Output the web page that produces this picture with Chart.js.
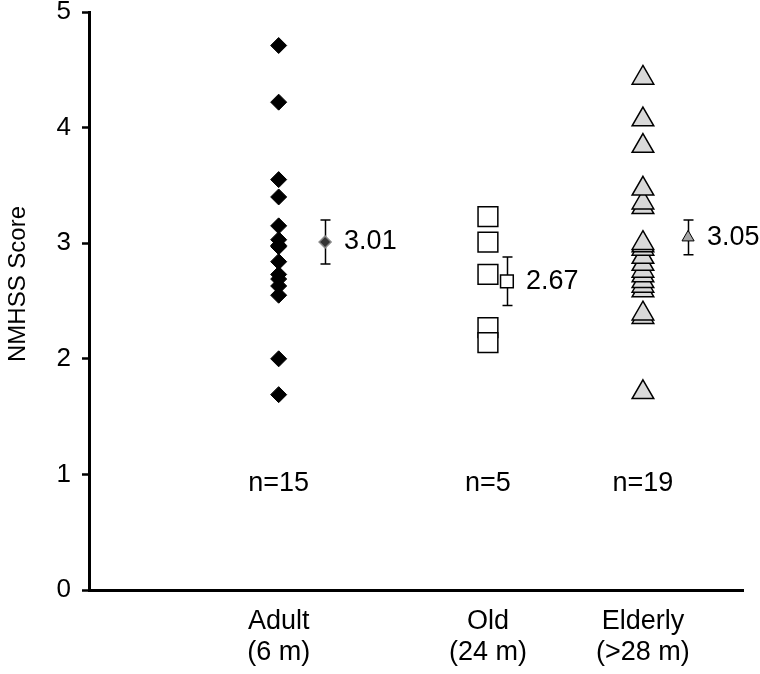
<!DOCTYPE html>
<html>
<head>
<meta charset="utf-8">
<script src="https://cdn.jsdelivr.net/npm/chart.js@4/dist/chart.umd.min.js"></script>
<style>
  html, body { margin: 0; padding: 0; background: #fff; }
  #wrap { width: 760px; height: 674px; }
</style>
</head>
<body>
<div id="wrap"><canvas id="scoreChart" width="760" height="674"></canvas></div>
<script>
// groups along the x axis
const groupNames = ["Adult", "Old", "Elderly"];
const groupAges = ["(6 m)", "(24 m)", "(>28 m)"];
const groupX = [2.9, 6.1, 8.47];
const meanX = [3.61, 6.39, 9.16];
const countLabels = ["n=15", "n=5", "n=19"];
const countY = 0.92;

// individual NMHSS scores
const adultScores = [4.71, 4.22, 3.55, 3.40, 3.15, 3.03, 2.98, 2.97, 2.84, 2.73, 2.69, 2.63, 2.55, 2.00, 1.69];
const oldScores = [3.23, 3.01, 2.73, 2.27, 2.14];
const elderlyScores = [1.71, 2.36, 2.39, 2.59, 2.63, 2.67, 2.72, 2.76, 2.82, 2.88, 2.95, 2.98, 3.00, 3.31, 3.35, 3.47, 3.84, 4.07, 4.43];

// group mean and error
const groupMeans = [3.01, 2.67, 3.05];
const groupErr = [0.19, 0.21, 0.15];
const meanLabels = ["3.01", "2.67", "3.05"];

const yTicks = [0, 1, 2, 3, 4, 5];

const FONT = "'Liberation Sans', Arial, sans-serif";

function pts(xv, arr) {
  return arr.map(v => ({ x: xv, y: v }));
}

// error bars under the means, text on top
const annotate = {
  id: "annotate",
  beforeDatasetsDraw(chart) {
    const { ctx, scales: { x, y } } = chart;
    ctx.save();
    ctx.strokeStyle = "#000";
    ctx.lineWidth = 1.5;
    groupMeans.forEach((m, i) => {
      const px = Math.round(x.getPixelForValue(meanX[i])) + 0.5;
      const top = y.getPixelForValue(m + groupErr[i]);
      const bot = y.getPixelForValue(m - groupErr[i]);
      ctx.beginPath();
      ctx.moveTo(px, top); ctx.lineTo(px, bot);
      ctx.moveTo(px - 5, top); ctx.lineTo(px + 5, top);
      ctx.moveTo(px - 5, bot); ctx.lineTo(px + 5, bot);
      ctx.stroke();
    });
    ctx.restore();
  },
  afterDatasetsDraw(chart) {
    const { ctx, scales: { x, y } } = chart;
    ctx.save();
    ctx.fillStyle = "#000";
    ctx.font = "27px " + FONT;
    ctx.textBaseline = "middle";

    ctx.textAlign = "left";
    groupMeans.forEach((m, i) => {
      ctx.fillText(meanLabels[i], x.getPixelForValue(meanX[i]) + 19, y.getPixelForValue(m));
    });

    ctx.textAlign = "center";
    countLabels.forEach((t, i) => {
      ctx.fillText(t, x.getPixelForValue(groupX[i]), y.getPixelForValue(countY));
    });

    // y axis title
    ctx.translate(18, 284);
    ctx.rotate(-Math.PI / 2);
    ctx.font = "24px " + FONT;
    ctx.fillText("NMHSS Score", 0, 0);
    ctx.restore();
  }
};

const ctx = document.getElementById("scoreChart").getContext("2d");

new Chart(ctx, {
  type: "scatter",
  data: {
    datasets: [
      {
        label: "Adult",
        data: pts(groupX[0], adultScores),
        pointStyle: "rectRot",
        pointRadius: 8,
        backgroundColor: "#000",
        borderColor: "#000",
        borderWidth: 1
      },
      {
        label: "Old",
        data: pts(groupX[1], oldScores),
        pointStyle: "rect",
        pointRadius: 14,
        backgroundColor: "#fff",
        borderColor: "#000",
        borderWidth: 1.5
      },
      {
        label: "Elderly",
        data: pts(groupX[2], elderlyScores),
        pointStyle: "triangle",
        pointRadius: 12.5,
        backgroundColor: "#d9d9d9",
        borderColor: "#000",
        borderWidth: 1.5
      },
      {
        label: "Adult mean",
        data: [{ x: meanX[0], y: groupMeans[0] }],
        pointStyle: "rectRot",
        pointRadius: 6,
        backgroundColor: "#333",
        borderColor: "#888",
        borderWidth: 1.5
      },
      {
        label: "Old mean",
        data: [{ x: meanX[1], y: groupMeans[1] }],
        pointStyle: "rect",
        pointRadius: 9,
        backgroundColor: "#fff",
        borderColor: "#000",
        borderWidth: 1.5
      },
      {
        label: "Elderly mean",
        data: [{ x: meanX[2], y: groupMeans[2] }],
        pointStyle: "triangle",
        pointRadius: 7,
        backgroundColor: "#a6a6a6",
        borderColor: "#000",
        borderWidth: 1
      }
    ]
  },
  options: {
    responsive: false,
    animation: false,
    layout: { autoPadding: false, padding: { left: 0, top: 12, right: 17, bottom: 0 } },
    plugins: {
      legend: { display: false },
      tooltip: { enabled: false }
    },
    scales: {
      x: {
        type: "linear",
        min: 0,
        max: 10,
        afterFit: (scale) => {
          scale.height = 84;
          scale.paddingLeft = 0;
          scale.paddingRight = 0;
        },
        afterBuildTicks: (scale) => {
          scale.ticks = groupX.map(v => ({ value: v }));
        },
        ticks: {
          autoSkip: false,
          maxRotation: 0,
          padding: 16,
          color: "#000",
          font: { family: FONT, size: 27, lineHeight: 1.15 },
          callback: (value, index) => [groupNames[index], groupAges[index]]
        },
        grid: { display: false, drawTicks: false },
        border: { display: true, color: "#000", width: 3 }
      },
      y: {
        min: 0,
        max: 5,
        afterFit: (scale) => {
          scale.width = 89;
          scale.paddingTop = 0;
          scale.paddingBottom = 0;
        },
        afterBuildTicks: (scale) => {
          scale.ticks = yTicks.map(v => ({ value: v }));
        },
        ticks: {
          padding: 11,
          color: "#000",
          font: { family: FONT, size: 26 }
        },
        grid: {
          drawOnChartArea: false,
          drawTicks: true,
          tickLength: 7,
          tickWidth: 2.5,
          tickColor: "#000"
        },
        border: { display: true, color: "#000", width: 3 }
      }
    }
  },
  plugins: [annotate]
});
</script>
</body>
</html>
